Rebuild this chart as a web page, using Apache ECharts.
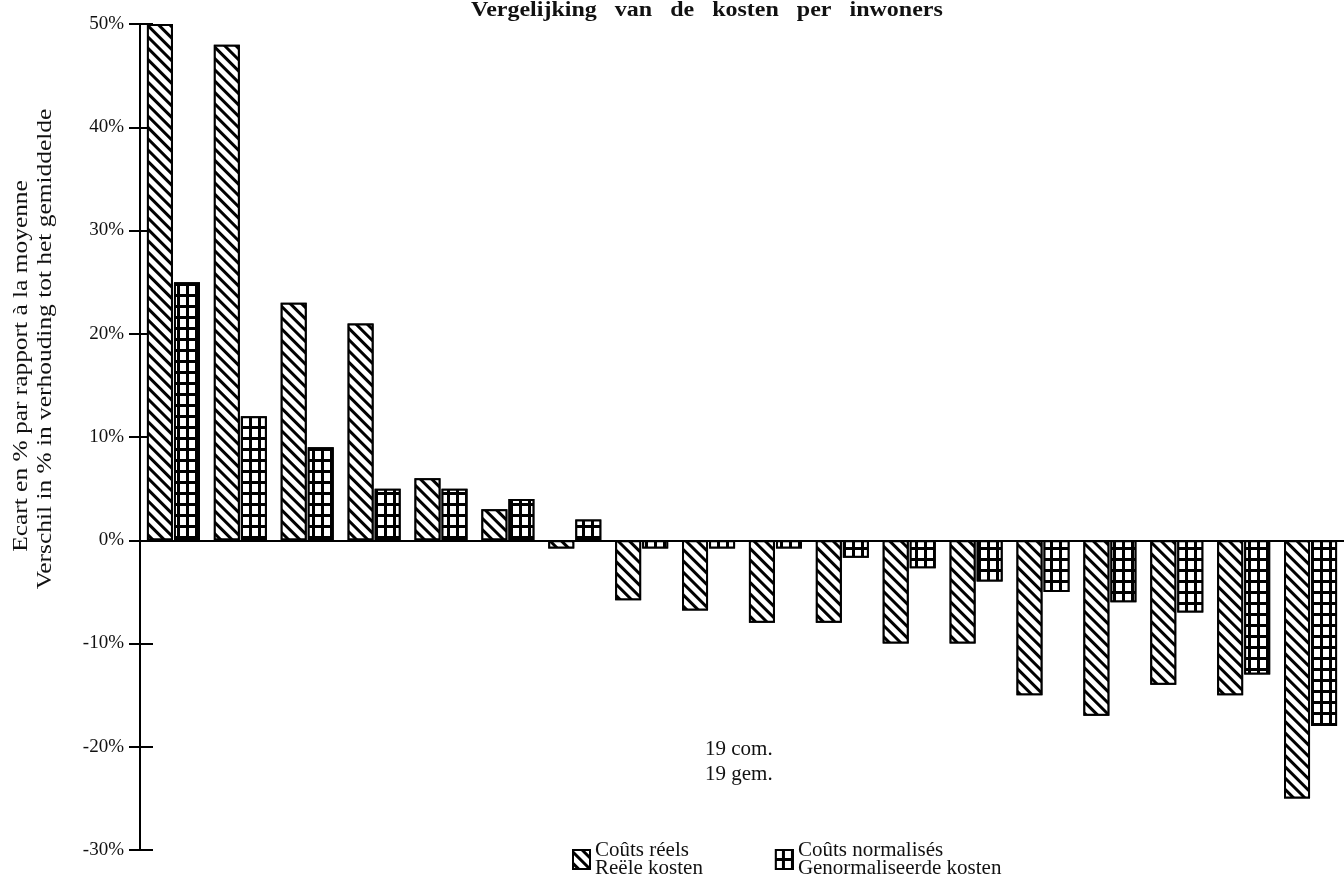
<!DOCTYPE html>
<html>
<head>
<meta charset="utf-8">
<script src="https://cdn.jsdelivr.net/npm/echarts@6/dist/echarts.min.js"></script>
<style>
html,body{margin:0;padding:0;background:#fff;}
#chart{width:1344px;height:880px;}
</style>
</head>
<body>
<div id="chart"></div>
<script>
// ---- data ----
var categories = ['1','2','3','4','5','6','7','8','9','10','11','12','13','14','15','16','17','18'];
var coutsReels = [50, 48, 23, 21, 6, 3, -0.8, -5.8, -6.8, -8, -8, -10, -10, -15, -17, -14, -15, -25];
var coutsNormalises = [25, 12, 9, 5, 5, 4, 2, -0.8, -0.8, -0.8, -1.7, -2.7, -4, -5, -6, -7, -13, -18];
var seriesNames = ['Coûts réels\nReële kosten', 'Coûts normalisés\nGenormaliseerde kosten'];
var titleText = 'Vergelijking   van   de   kosten   per   inwoners';
var yNameLines = ['Ecart en % par rapport à la moyenne', 'Verschil in % in verhouding tot het gemiddelde'];
var noteLines = ['19 com.', '19 gem.'];
var yMin = -30, yMax = 50, yInterval = 10;

var serif = '"Liberation Serif", "DejaVu Serif", serif';

var hatchDecal = {
  symbol: 'rect',
  symbolKeepAspect: false,
  symbolSize: 1,
  color: '#000',
  backgroundColor: '#fff',
  dashArrayX: [1, 0],
  dashArrayY: [2.5, 4.5],
  rotation: Math.PI / 4
};
var gridDecal = {
  symbol: 'rect',
  symbolKeepAspect: false,
  symbolSize: 1,
  color: '#fff',
  backgroundColor: '#000',
  dashArrayX: [6, 2.5],
  dashArrayY: [7.5, 2.5],
  rotation: 0
};

var chart = echarts.init(document.getElementById('chart'), null, {renderer: 'canvas'});
var option = {
  backgroundColor: '#fff',
  animation: false,
  legend: {
    data: seriesNames,
    left: 567,
    top: 835,
    icon: 'rect',
    itemWidth: 17,
    itemHeight: 19,
    itemGap: 72,
    textStyle: {fontFamily: serif, fontSize: 21, color: '#111', lineHeight: 18}
  },
  grid: {left: 140, top: 24, width: 1211, height: 826, containLabel: false},
  xAxis: {
    type: 'category',
    data: categories,
    axisLine: {onZero: true, lineStyle: {color: '#000', width: 2}},
    axisTick: {show: false},
    axisLabel: {show: false},
    splitLine: {show: false}
  },
  yAxis: [{
    type: 'value',
    min: yMin, max: yMax, interval: yInterval,
    axisLine: {show: true, lineStyle: {color: '#000', width: 2}},
    axisTick: {show: true, length: 11, lineStyle: {color: '#000', width: 2}},
    axisLabel: {formatter: '{value}%', fontFamily: serif, fontSize: 19, color: '#111', margin: 16},
    splitLine: {show: false}
  }, {
    type: 'value',
    position: 'left',
    min: yMin, max: yMax, interval: yInterval,
    axisLine: {show: false},
    axisTick: {show: true, inside: true, length: 13, lineStyle: {color: '#000', width: 2}},
    axisLabel: {show: false},
    splitLine: {show: false}
  }],
  series: [{
    name: seriesNames[0],
    type: 'bar',
    data: coutsReels,
    barWidth: 26,
    barGap: '4%',
    itemStyle: {color: '#fff', borderColor: '#000', borderWidth: 2, decal: hatchDecal}
  }, {
    name: seriesNames[1],
    type: 'bar',
    data: coutsNormalises,
    barWidth: 26,
    barGap: '4%',
    itemStyle: {color: '#000', borderColor: '#000', borderWidth: 2, decal: gridDecal}
  }],
  graphic: [{
    type: 'text',
    x: 471, y: 21,
    scaleX: 1.2,
    style: {
      text: titleText,
      font: 'bold 20px ' + serif,
      fill: '#111',
      align: 'left',
      verticalAlign: 'bottom'
    }
  }, {
    type: 'text',
    x: 22, y: 366,
    rotation: Math.PI / 2,
    scaleX: 1.27,
    style: {
      text: yNameLines[0],
      font: '20px ' + serif,
      fill: '#111',
      align: 'center',
      verticalAlign: 'middle'
    }
  }, {
    type: 'text',
    x: 46, y: 349,
    rotation: Math.PI / 2,
    scaleX: 1.27,
    style: {
      text: yNameLines[1],
      font: '20px ' + serif,
      fill: '#111',
      align: 'center',
      verticalAlign: 'middle'
    }
  }, {
    type: 'text',
    x: 705, y: 762,
    style: {
      text: noteLines.join('\n'),
      font: '21px ' + serif,
      fill: '#111',
      align: 'left',
      verticalAlign: 'middle',
      lineHeight: 25
    }
  }]
};
chart.setOption(option);
</script>
</body>
</html>
